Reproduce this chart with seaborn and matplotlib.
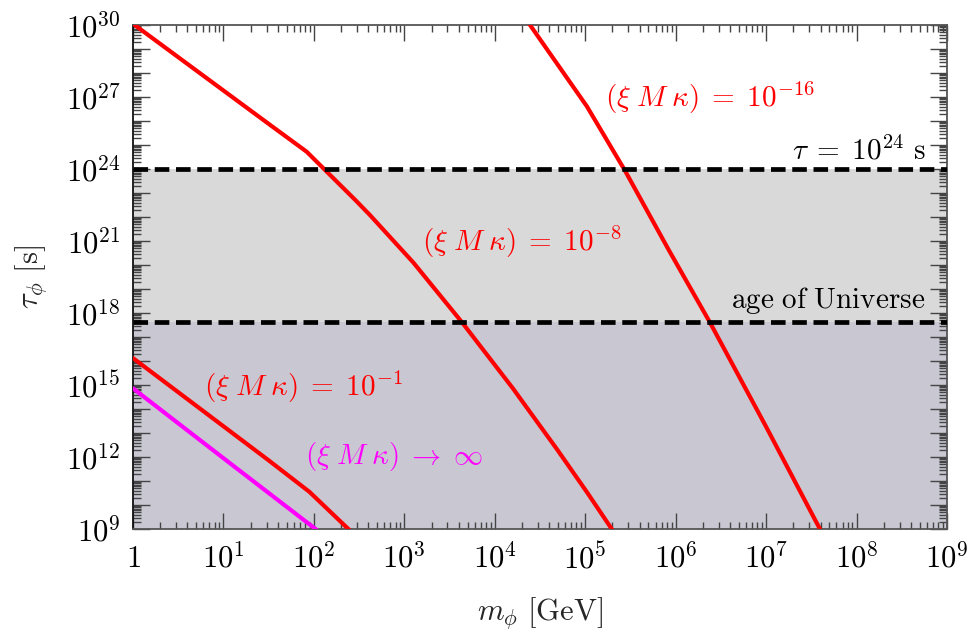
import numpy as np
import pandas as pd
import matplotlib
matplotlib.use("Agg")
import matplotlib.pyplot as plt
import matplotlib.ticker as mticker
import seaborn as sns

# ---- data (log10 of mass in GeV, log10 of lifetime in s) ----
logm_1e16 = [4.36, 5.02, 5.44, 5.92, 6.38, 7.00, 7.62]
logtau_1e16 = [30.16, 26.60, 23.93, 20.65, 17.60, 13.26, 8.82]

logm_1e8 = [0.0, 0.50, 1.00, 1.50, 1.92, 2.46, 2.62, 3.10, 3.64, 4.20, 4.69, 5.02, 5.32]
logtau_1e8 = [30.05, 28.66, 27.27, 25.88, 24.72, 22.70, 22.08, 20.10, 17.60, 14.86, 12.31, 10.53, 8.85]

logm_1e1 = [0.0, 0.5, 1.0, 1.5, 1.95, 2.42]
logtau_1e1 = [16.12, 14.70, 13.28, 11.86, 10.55, 8.86]

logm_inf = [0.0, 1.0, 2.07]
logtau_inf = [14.86, 11.95, 8.85]

tau_age = 4.35e17      # age of the Universe [s]
tau_bound = 1e24       # lifetime bound [s]

x_tick_labels = ["$1$"] + [f"$10^{{{k}}}$" for k in range(1, 10)]
y_tick_labels = [f"$10^{{{k}}}$" if k % 3 == 0 else "" for k in range(9, 31)]

curve_names = ["1e-16", "1e-8", "1e-1", "inf"]
curve_colors = ["#ff0000", "#ff0000", "#ff0000", "#ff00ff"]

frames = []
for name, lm, lt in zip(curve_names,
                        [logm_1e16, logm_1e8, logm_1e1, logm_inf],
                        [logtau_1e16, logtau_1e8, logtau_1e1, logtau_inf]):
    frames.append(pd.DataFrame({"m": 10.0 ** np.array(lm),
                                "tau": 10.0 ** np.array(lt),
                                "curve": name}))
df = pd.concat(frames, ignore_index=True)

# ---- style ----
sns.set_style("ticks")
plt.rcParams["font.family"] = ["DejaVu Serif"]
plt.rcParams["mathtext.fontset"] = "cm"
plt.rcParams["lines.scale_dashes"] = False
plt.rcParams["lines.solid_joinstyle"] = "round"

fig = plt.figure(figsize=(9.71, 6.37), dpi=100)
ax = fig.add_axes([133 / 971, 1 - 529 / 637, (947 - 133) / 971, (529 - 25) / 637])

ax.set_xscale("log")
ax.set_yscale("log")
ax.set_xlim(1, 1e9)
ax.set_ylim(1e9, 1e30)

# shaded regions
ax.axhspan(1e9, tau_age, color="#c9c8d2", lw=0, zorder=0)
ax.axhspan(tau_age, tau_bound, color="#d9d9d9", lw=0, zorder=0)

sns.lineplot(data=df, x="m", y="tau", hue="curve", palette=dict(zip(curve_names, curve_colors)),
             hue_order=curve_names, units="curve", estimator=None, sort=False,
             linewidth=3.0, legend=False, ax=ax, zorder=3)

dash = (0, (10.5, 4.8))
ax.axhline(tau_bound, color="black", lw=3.4, ls=dash, zorder=4)
ax.axhline(tau_age, color="black", lw=3.4, ls=dash, zorder=4)

# ---- ticks ----
ax.xaxis.set_major_locator(mticker.FixedLocator([10.0 ** k for k in range(0, 10)]))
ax.xaxis.set_major_formatter(mticker.FixedFormatter(x_tick_labels))
ax.xaxis.set_minor_locator(mticker.LogLocator(base=10, subs=np.arange(2, 10), numticks=100))
ax.xaxis.set_minor_formatter(mticker.NullFormatter())

ax.yaxis.set_major_locator(mticker.FixedLocator([10.0 ** k for k in range(9, 31)]))
ax.yaxis.set_major_formatter(mticker.FixedFormatter(y_tick_labels))
ax.yaxis.set_minor_locator(mticker.LogLocator(base=10, subs=np.arange(2, 10), numticks=100))
ax.yaxis.set_minor_formatter(mticker.NullFormatter())

tick_col = "#444444"
ax.tick_params(which="both", direction="in", top=True, right=True, color=tick_col,
               width=1.0, labelsize=22, labelcolor="black")
ax.tick_params(axis="x", which="major", length=11.5, pad=10)
ax.tick_params(axis="x", which="minor", length=5)
ax.tick_params(axis="y", which="major", length=12, pad=9)
ax.tick_params(axis="y", which="minor", length=6)

for side, sp in ax.spines.items():
    sp.set_color("#555555")
    sp.set_linewidth(1.3)
ax.spines["left"].set_color("#111111")

ax.set_xlabel(r"$m_\phi\ [\mathrm{GeV}]$", fontsize=22, labelpad=14)
ax.set_ylabel(r"$\tau_\phi\ [\mathrm{s}]$", fontsize=22, labelpad=12)

# ---- annotations ----
fs = 21
ax.text(10 ** 5.22, 10 ** 26.96, r"$(\xi\;M\;\kappa)\;=\;10^{-16}$", color="#ff0000",
        fontsize=fs, ha="left", va="center")
ax.text(10 ** 3.19, 10 ** 20.96, r"$(\xi\;M\;\kappa)\;=\;10^{-8}$", color="#ff0000",
        fontsize=fs, ha="left", va="center")
ax.text(10 ** 0.78, 10 ** 14.92, r"$(\xi\;M\;\kappa)\;=\;10^{-1}$", color="#ff0000",
        fontsize=fs, ha="left", va="center")
ax.text(10 ** 1.90, 10 ** 12.01, r"$(\xi\;M\;\kappa)\;\rightarrow\;\infty$", color="#ff00ff",
        fontsize=fs, ha="left", va="center")
ax.text(10 ** 8.76, 10 ** 24.375, r"$\tau\;=\;10^{24}\ \mathrm{s}$", color="black",
        fontsize=fs, ha="right", va="baseline")
ax.text(10 ** 8.76, 10 ** 18.21, r"$\mathrm{age\ of\ Universe}$", color="black",
        fontsize=fs, ha="right", va="baseline")

fig.savefig("out.png", dpi=100)
